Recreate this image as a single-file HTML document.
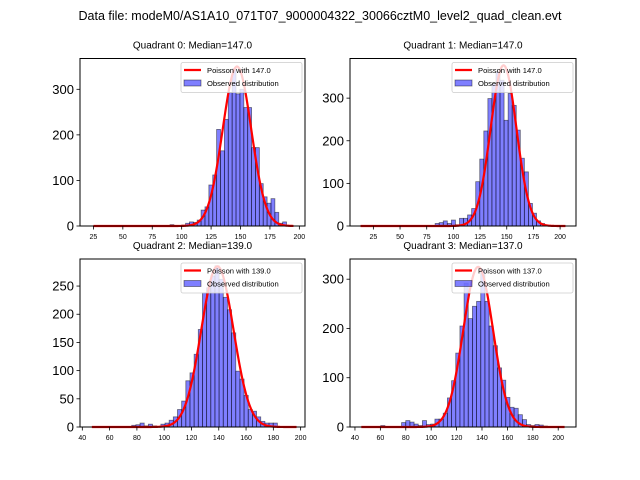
<!DOCTYPE html>
<html><head><meta charset="utf-8">
<style>
html,body{margin:0;padding:0;background:#fff;}
svg{display:block;font-family:"Liberation Sans","DejaVu Sans",sans-serif;}
</style></head>
<body>
<svg id="fig" width="640" height="480" viewBox="0 0 640 480" xmlns="http://www.w3.org/2000/svg">
<rect width="640" height="480" fill="#fff"/>
<text x="320" y="20" font-size="12.5" text-anchor="middle" fill="#000">Data file: modeM0/AS1A10_071T07_9000004322_30066cztM0_level2_quad_clean.evt</text>
</svg>
<script>
// ---- data ----
const quadrantTitles = ["Quadrant 0: Median=147.0","Quadrant 1: Median=147.0","Quadrant 2: Median=139.0","Quadrant 3: Median=137.0"];
const poissonMeans = [147, 147, 139, 137];
const poissonPeaks = [350, 377, 285, 325];
const curveStart = [25, 13, 47, 45];
const curveEnd = [195, 205, 197, 205];
const binStarts = [76.9, 82.9, 76.2, 60.3];
const binWidths = [3.3, 3.8, 3.05, 3.28];
const counts0 = [1,0,0,0,3,0,1,2,6,9,8,13,35,42,90,112,212,165,234,293,345,290,300,260,260,172,172,93,64,50,60,30,6,9];
const counts1 = [6,8,12,6,14,3,18,18,26,41,104,157,223,299,334,362,342,248,311,283,225,159,127,53,30,12,6];
const counts2 = [3,4,7,2,5,2,1,5,7,12,18,31,46,82,96,129,173,238,247,268,286,262,230,208,167,99,85,56,31,28,18,10,7,7,7];
const counts3 = [3,0,0,0,0,9,13,10,6,3,13,5,6,16,16,28,59,94,150,205,292,220,245,255,320,255,205,165,120,95,60,40,38,25,15,5,3,5,4,2];
const xTicks0 = [25,50,75,100,125,150,175,200];
const xTicks1 = [25,50,75,100,125,150,175,200];
const xTicks2 = [40,60,80,100,120,140,160,180,200];
const xTicks3 = [40,60,80,100,120,140,160,180,200];
const yTicks0 = [0,100,200,300];
const yTicks1 = [0,100,200,300];
const yTicks2 = [0,50,100,150,200,250];
const yTicks3 = [0,100,200,300];
const xDomains = [[13.6,204.8],[3.1,214.9],[38.3,203.2],[36.1,214]];
const yDomains = [[0,367.6],[0,393],[0,298],[0,341]];

const allCounts=[counts0,counts1,counts2,counts3];
const allX=[xTicks0,xTicks1,xTicks2,xTicks3];
const allY=[yTicks0,yTicks1,yTicks2,yTicks3];
const boxes=[[80,58.5,305,226],[350,58.5,576,226],[80,259,305,427],[350,259,576,427]];
const NS="http://www.w3.org/2000/svg";
const fig=document.getElementById('fig');
function mk(tag,attrs,parent){const e=document.createElementNS(NS,tag);for(const k in attrs)e.setAttribute(k,attrs[k]);(parent||fig).appendChild(e);return e;}

for(let q=0;q<4;q++){
  const [L,T,R,B]=boxes[q];
  const [x0,x1]=xDomains[q],[y0,y1]=yDomains[q];
  const sx=v=>L+(v-x0)/(x1-x0)*(R-L);
  const sy=v=>B-(v-y0)/(y1-y0)*(B-T);
  const g=mk('g',{});
  
  
  const title=mk('text',{x:(L+R)/2,y:T-10,'font-size':'10','text-anchor':'middle'},g);
  title.textContent=quadrantTitles[q];
  
  
  // bars
  const c=allCounts[q];
  for(let i=0;i<c.length;i++){
    if(c[i]<=0)continue;
    const a=binStarts[q]+i*binWidths[q];
    const r=mk('rect',{x:sx(a),y:sy(c[i]),width:sx(a+binWidths[q])-sx(a),height:sy(0)-sy(c[i]),fill:'rgba(0,0,255,0.5)',stroke:'rgba(0,0,0,0.5)','stroke-width':'0.8'},g);
    
    
  }
  // poisson curve (normal approx)
  const m=poissonMeans[q],pk=poissonPeaks[q];
  let d='';
  for(let v=curveStart[q];v<=curveEnd[q];v+=0.5){
    const val=pk*Math.exp(-(v-m)*(v-m)/(2*m));
    d+=(d?'L':'M')+sx(v).toFixed(2)+','+sy(val).toFixed(2);
  }
  const p=mk('path',{d:d,fill:'none',stroke:'#ff0000','stroke-width':'2.2'},g);
  
  
  // axes frame
  const fr=mk('rect',{x:L,y:T,width:R-L,height:B-T,fill:'none',stroke:'#000','stroke-width':'1'},g);
  
  
  // x ticks
  allX[q].forEach(t=>{
    const x=sx(t);
    mk('line',{x1:x,y1:B,x2:x,y2:B+3.5,stroke:'#000','stroke-width':'0.8'},g);
    const tx=mk('text',{x:x,y:B+13,'font-size':'7','text-anchor':'middle'},g);
    tx.textContent=t;
    
    
  });
  allY[q].forEach(t=>{
    const y=sy(t);
    mk('line',{x1:L,y1:y,x2:L-3.5,y2:y,stroke:'#000','stroke-width':'0.8'},g);
    const ty=mk('text',{x:L-6,y:y+4.5,'font-size':'13','text-anchor':'end'},g);
    ty.textContent=t;
    
    
  });
  // legend
  const lg=mk('g',{},g);
  
  
  const lx=R-124,ly=T+4;
  mk('rect',{x:lx,y:ly,width:121,height:30,rx:2,fill:'rgba(255,255,255,0.8)',stroke:'#ccc','stroke-width':'0.8'},lg);
  mk('line',{x1:lx+3,y1:ly+7.5,x2:lx+20,y2:ly+7.5,stroke:'#ff0000','stroke-width':'2.2'},lg);
  const t1=mk('text',{x:lx+26,y:ly+10.5,'font-size':'7.6'},lg);
  t1.textContent='Poisson with '+poissonMeans[q].toFixed(1);
  
  
  mk('rect',{x:lx+3,y:ly+17.5,width:17,height:6,fill:'rgba(0,0,255,0.5)',stroke:'rgba(0,0,0,0.5)','stroke-width':'0.8'},lg);
  const t2=mk('text',{x:lx+26,y:ly+23.5,'font-size':'7.6'},lg);
  t2.textContent='Observed distribution';
  
  
}
</script>
</body></html>
